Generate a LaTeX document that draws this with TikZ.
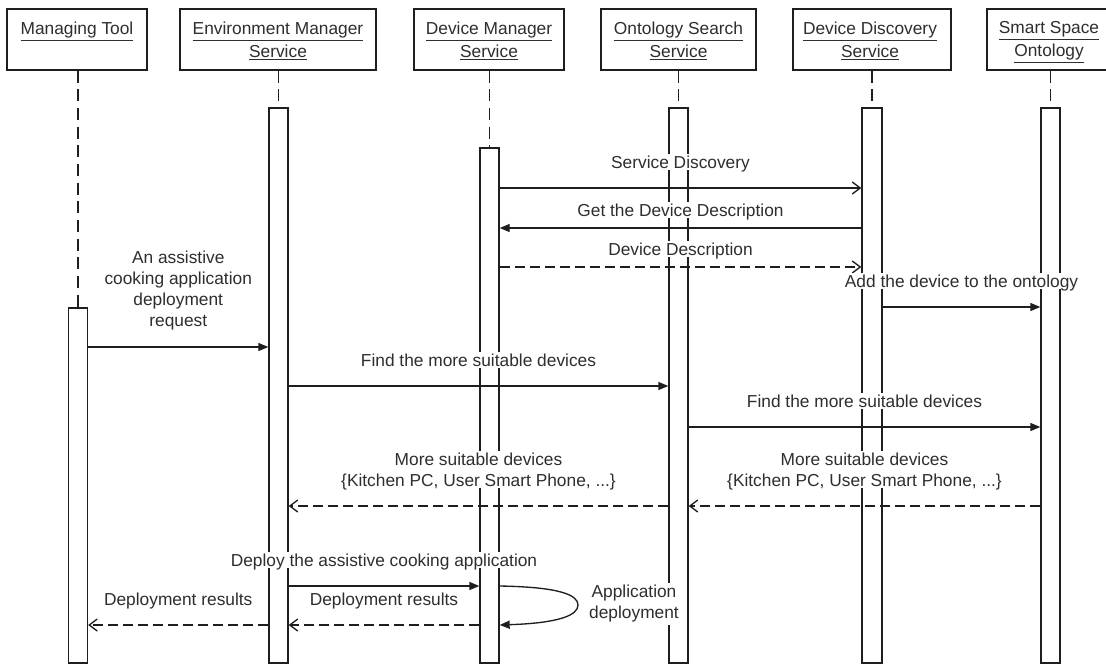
\documentclass[tikz,border=0pt]{standalone}
\usepackage{fontspec}
\setmainfont{Liberation Sans}
\usetikzlibrary{arrows.meta}
\definecolor{linec}{HTML}{1E1E1E}
\definecolor{textc}{HTML}{2E2E2E}
\tikzset{
  head/.style={draw=linec, line width=1pt, inner sep=0pt, minimum height=45.75pt},
  htext/.style={text=textc, font=\fontsize{13}{17.25}\selectfont, align=center, inner sep=0pt, anchor=north},
  act/.style={draw=linec, fill=white, line width=1pt, inner sep=0pt, minimum width=14.25pt},
  life/.style={draw=linec, line width=1pt, dash pattern=on 9pt off 5pt},
  call/.style={draw=linec, line width=1pt, -{Triangle[length=7.5pt,width=6pt]}},
  async/.style={draw=linec, line width=1pt, -{Straight Barb[length=6pt,width=9pt]}},
  ret/.style={draw=linec, line width=1pt, dash pattern=on 7.5pt off 3.75pt, -{Straight Barb[length=6pt,width=9pt]}},
  lbl/.style={text=textc, font=\fontsize{13}{15.75}\selectfont, align=center, fill=white,
              inner xsep=1pt, inner ysep=1.5pt, text depth=0pt, anchor=south, midway},
  lbltwo/.style={text=textc, font=\fontsize{13}{15.75}\selectfont, align=center, fill=white,
              inner sep=1.5pt}
}
\begin{document}
\begin{tikzpicture}[x=0.75pt,y=-0.75pt]
\useasboundingbox (0,0) rectangle (1106,665);
\fill[white] (0,0) rectangle (1106,665);

% header boxes
\node[head, minimum width=105pt]   (mt)  at (77,39.5)   {};
\node[head, minimum width=147pt]   (env) at (278,39.5)  {};
\node[head, minimum width=112.5pt] (dm)  at (489,39.5)  {};
\node[head, minimum width=116.25pt](os)  at (678.5,39.5){};
\node[head, minimum width=118.5pt] (dd)  at (872,39.5)  {};
\node[head, minimum width=94.5pt]  (sso) at (1050,39.5) {};

\node[htext] (mtt)  at (77,21.5)    {\underline{Managing Tool}};
\node[htext] (envt) at (278,21.5)   {\underline{Environment Manager}\\\underline{Service}};
\node[htext] (dmt)  at (489,21.5)   {\underline{Device Manager}\\\underline{Service}};
\node[htext] (ost)  at (678.5,21.5) {\underline{Ontology Search}\\\underline{Service}};
\node[htext] (ddt)  at (870,21.5)   {\underline{Device Discovery}\\\underline{Service}};
\node[htext] (ssot) at (1049,21.5)  {\underline{Smart Space}\\\underline{Ontology}};

% activation boxes
\node[act, minimum height=266.25pt] (mtact)  at (78,485.5)    {};
\node[act, minimum height=416.25pt] (envact) at (278.5,385.5) {};
\node[act, minimum height=386.25pt] (dmact)  at (489.5,405.5) {};
\node[act, minimum height=416.25pt] (osact)  at (678.5,385.5) {};
\node[act, minimum height=416.25pt, minimum width=15pt] (ddact) at (872,385.5) {};
\node[act, minimum height=416.25pt] (ssoact) at (1050.5,385.5) {};

% lifelines
\draw[life] (mtact.north |- mt.south)   -- (mtact.north);
\draw[life] (envact.north |- env.south) -- (envact.north);
\draw[life] (dmact.north |- dm.south)   -- (dmact.north);
\draw[life] (osact.north |- os.south)   -- (osact.north);
\draw[life] (ddact.north |- dd.south)   -- (ddact.north);
\draw[life] (ssoact.north |- sso.south) -- (ssoact.north);

% message rows
\coordinate (y1) at (0,188);
\coordinate (y2) at (0,228);
\coordinate (y3) at (0,267);
\coordinate (y4) at (0,307);
\coordinate (y5) at (0,347);
\coordinate (y6) at (0,386);
\coordinate (y7) at (0,427);
\coordinate (y8) at (0,506);
\coordinate (y10) at (0,586);
\coordinate (y12) at (0,625);

\draw[async] (dmact.east |- y1) -- node[lbl, yshift=12.75pt] (m1) {Service Discovery} (ddact.west |- y1);
\draw[call] (ddact.west |- y2) -- node[lbl, yshift=6.75pt] (m2) {Get the Device Description} (dmact.east |- y2);
\draw[ret] (dmact.east |- y3) -- node[lbl, yshift=6.75pt] (m3) {Device Description} (ddact.west |- y3);
\draw[call] (ddact.east |- y4) -- node[lbl, yshift=12.75pt] (m4) {Add the device to the ontology} (ssoact.west |- y4);
\draw[call] (mtact.east |- y5) -- node[lbl, yshift=13.5pt] (m5) {An assistive\\cooking application\\deployment\\request} (envact.west |- y5);
\draw[call] (envact.east |- y6) -- node[lbl, yshift=12.75pt] (m6) {Find the more suitable devices} (osact.west |- y6);
\draw[call] (osact.east |- y7) -- node[lbl, yshift=12.75pt] (m7) {Find the more suitable devices} (ssoact.west |- y7);
\draw[ret] (osact.west |- y8) -- node[lbl, yshift=12.75pt] (m8) {More suitable devices\\\{Kitchen PC, User Smart Phone, ...\}} (envact.east |- y8);
\draw[ret] (ssoact.west |- y8) -- node[lbl, yshift=12.75pt] (m9) {More suitable devices\\\{Kitchen PC, User Smart Phone, ...\}} (osact.east |- y8);
\draw[call] (envact.east |- y10) -- node[lbl, yshift=12.75pt] (m10) {Deploy the assistive cooking application} (dmact.west |- y10);
\draw[call] (dmact.east |- y10) .. controls (560,587) and (578,595) .. (578,605)
            .. controls (578,615) and (560,623) .. (dmact.east |- y12);
\node[lbltwo] (m11) at (634,604) {Application\\deployment};
\draw[ret] (dmact.west |- y12) -- node[lbl, yshift=12.75pt] (m12) {Deployment results} (envact.east |- y12);
\draw[ret] (envact.west |- y12) -- node[lbl, yshift=12.75pt] (m13) {Deployment results} (mtact.east |- y12);
\end{tikzpicture}
\end{document}
